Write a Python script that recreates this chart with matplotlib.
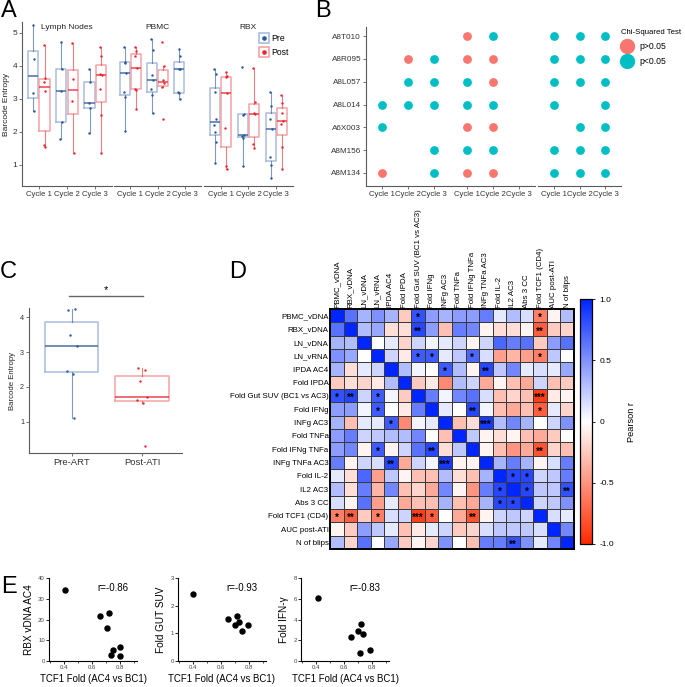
import numpy as np
import matplotlib
matplotlib.use('Agg')
import matplotlib.pyplot as plt
from matplotlib.colors import LinearSegmentedColormap
from matplotlib.lines import Line2D

plt.rcParams['font.family'] = ['Liberation Sans', 'DejaVu Sans']

W, H = 685, 687

# ---------------- data ----------------
# Panel A: barcode entropy by tissue / ATI cycle, pre and post
tissues = ['Lymph Nodes', 'PBMC', 'RBX']
cycles = ['Cycle 1', 'Cycle 2', 'Cycle 3']
ln_pre = [[5.25, 4.2, 3.18, 2.62], [4.73, 3.9, 3.23, 2.3, 1.77], [3.92, 3.52, 2.88, 2.72, 1.97]]
ln_post = [[4.62, 3.62, 3.5, 3.25, 1.6, 1.53], [4.7, 3.6, 2.93, 1.35], [4.58, 4.3, 3.75, 3.72, 3.3, 2.5, 1.37]]
pbmc_pre = [[4.57, 4.12, 4.1, 3.78, 3.2, 3.05, 2.02], [4.82, 4.47, 3.72, 3.57, 3.3, 3.12, 2.58],
            [4.52, 4.3, 3.92, 3.9, 3.2, 3.18, 3.0]]
pbmc_post = [[4.57, 4.45, 4.3, 3.95, 3.3, 3.28, 2.7], [4.72, 4.0, 3.56, 3.48, 3.35, 2.4], []]
rbx_pre = [[3.92, 3.75, 3.2, 2.38, 2.22, 2.0, 1.68, 1.05], [3.97, 2.55, 2.52, 1.92, 1.88, 1.82, 0.98],
           [3.2, 2.78, 2.38, 2.1, 1.25, 1.0, 0.6]]
rbx_post = [[3.82, 3.68, 3.65, 3.18, 2.12, 0.97, 0.88], [3.95, 2.92, 2.57, 2.53, 1.62, 1.52],
            [3.12, 2.87, 2.57, 2.33, 2.25, 1.55, 0.88]]

# Panel B: chi-squared result per animal (0 = none, 1 = p>0.05, 2 = p<0.05)
animals = ['A8T010', 'A8R095', 'A8L057', 'A8L014', 'A6X003', 'A8M156', 'A8M134']
chi_ln = [[0, 0, 0], [0, 1, 2], [0, 2, 2], [2, 2, 2], [2, 0, 0], [0, 0, 2], [1, 0, 2]]
chi_pbmc = [[1, 2, 0], [1, 1, 0], [2, 1, 0], [2, 2, 0], [1, 1, 0], [2, 2, 0], [1, 1, 0]]
chi_rbx = [[2, 2, 2], [2, 2, 2], [2, 2, 2], [2, 0, 2], [0, 2, 2], [2, 2, 2], [2, 2, 2]]

# Panel C
c_groups = ['Pre-ART', 'Post-ATI']
c_pre = [4.2, 4.22, 3.5, 3.18, 2.45, 2.38, 1.1]
c_post = [2.55, 2.48, 2.17, 1.72, 1.62, 1.55, 0.3]

# Panel D: Pearson r matrix
d_labels = ['PBMC_vDNA', 'RBX_vDNA', 'LN_vDNA', 'LN_vRNA', 'IPDA AC4', 'Fold IPDA',
            'Fold Gut SUV (BC1 vs AC3)', 'Fold IFNg', 'INFg AC3', 'Fold TNFa', 'Fold IFNg TNFa',
            'INFg TNFa AC3', 'Fold IL-2', 'IL2 AC3', 'Abs 3 CC', 'Fold TCF1 (CD4)', 'AUC post-ATI',
            'N of blips']
corr_r = [
    [1.0, 0.65, 0.35, 0.5, 0.35, -0.25, 0.8, 0.45, 0.35, 0.45, 0.45, 0.6, 0.1, 0.3, 0.15, -0.6, -0.05, 0.3],
    [0.65, 1.0, 0.3, 0.4, -0.15, -0.15, 0.85, 0.45, -0.3, 0.6, 0.55, -0.05, -0.15, -0.15, -0.05, -0.75, -0.25, -0.2],
    [0.35, 0.3, 1.0, 0.0, 0.1, -0.2, 0.2, 0.05, 0.1, 0.2, -0.05, 0.2, 0.7, 0.6, 0.65, -0.25, 0.45, 0.65],
    [0.5, 0.4, 0.0, 1.0, 0.2, -0.1, 0.75, 0.75, 0.1, 0.25, 0.7, 0.15, -0.45, -0.35, -0.45, -0.6, 0.25, 0.0],
    [0.35, -0.15, 0.1, 0.2, 1.0, 0.3, 0.05, 0.0, 0.75, 0.3, -0.05, 0.85, 0.25, 0.55, 0.1, 0.15, 0.1, 0.4],
    [-0.25, -0.15, -0.2, -0.1, 0.3, 1.0, -0.25, -0.1, -0.55, 0.3, 0.2, -0.4, -0.05, -0.3, -0.4, 0.2, -0.3, -0.25],
    [0.8, 0.85, 0.2, 0.75, 0.05, -0.25, 1.0, 0.6, 0.05, 0.55, 0.65, 0.15, -0.3, -0.2, -0.3, -0.9, -0.1, -0.05],
    [0.45, 0.45, 0.05, 0.75, 0.0, -0.1, 0.6, 1.0, 0.1, 0.0, 0.85, 0.05, -0.3, -0.4, -0.3, -0.75, 0.1, -0.2],
    [0.35, -0.3, 0.1, 0.1, 0.75, -0.55, 0.05, 0.1, 1.0, -0.3, -0.15, 0.9, 0.3, 0.55, 0.35, 0.0, 0.2, 0.5],
    [0.45, 0.6, 0.2, 0.25, 0.3, 0.3, 0.55, 0.0, -0.3, 1.0, 0.25, -0.05, -0.15, -0.05, -0.3, -0.4, -0.25, 0.0],
    [0.45, 0.55, -0.05, 0.75, -0.05, 0.2, 0.65, 0.85, -0.15, 0.25, 1.0, -0.05, -0.3, -0.5, -0.4, -0.8, -0.2, -0.3],
    [0.6, -0.05, 0.2, 0.15, 0.85, -0.4, 0.2, 0.05, 0.9, -0.05, -0.05, 1.0, 0.35, 0.6, 0.35, -0.05, 0.15, 0.6],
    [0.1, -0.15, 0.7, -0.45, 0.25, -0.05, -0.3, -0.3, 0.3, -0.15, -0.3, 0.35, 1.0, 0.85, 0.85, 0.2, 0.25, 0.6],
    [0.3, -0.15, 0.6, -0.35, 0.55, -0.3, -0.2, -0.4, 0.55, -0.05, -0.5, 0.6, 0.85, 1.0, 0.85, 0.25, 0.25, 0.8],
    [0.15, -0.05, 0.65, -0.45, 0.1, -0.4, -0.3, -0.3, 0.35, -0.3, -0.4, 0.35, 0.85, 0.85, 1.0, 0.2, 0.25, 0.5],
    [-0.6, -0.75, -0.25, -0.6, 0.15, 0.2, -0.9, -0.75, 0.0, -0.4, -0.8, -0.05, 0.2, 0.25, 0.2, 1.0, 0.15, 0.1],
    [-0.05, -0.25, 0.45, 0.25, 0.1, -0.3, -0.1, 0.1, 0.2, -0.25, -0.2, 0.15, 0.25, 0.25, 0.25, 0.15, 1.0, 0.55],
    [0.3, -0.2, 0.65, 0.0, 0.4, -0.25, -0.05, -0.2, 0.5, 0.0, -0.3, 0.6, 0.6, 0.8, 0.5, 0.1, 0.55, 1.0],
]
# significant pairs (row, col, number of stars), mirrored below
sig_pairs = [(0, 6, 1), (1, 6, 2), (3, 6, 1), (3, 7, 1), (3, 10, 1), (4, 8, 1), (4, 11, 2),
             (7, 10, 2), (8, 11, 3), (0, 15, 1), (1, 15, 2), (3, 15, 1), (6, 15, 3), (7, 15, 1),
             (10, 15, 2), (12, 13, 1), (12, 14, 1), (13, 14, 1), (13, 17, 2)]

# Panel E: TCF1 fold vs other readouts
tcf1_a = [0.405, 0.657, 0.72, 0.705, 0.737, 0.747, 0.798, 0.798]
rbx_vdna = [34.2, 21.9, 23.2, 15.8, 3.0, 5.3, 6.9, 2.2]
tcf1_b = [0.40, 0.649, 0.71, 0.70, 0.73, 0.745, 0.79]
gut_suv = [2.41, 1.51, 1.61, 1.3, 1.4, 1.09, 1.3]
tcf1_c = [0.41, 0.65, 0.695, 0.72, 0.735, 0.71, 0.785]
fold_ifn = [6.06, 2.34, 2.9, 3.56, 2.63, 0.8, 1.09]
e_r = ['r=-0.86', 'r=-0.93', 'r=-0.83']

# ---------------- figure ----------------
fig = plt.figure(figsize=(W / 100, H / 100), dpi=100)


def px_axes(x0, y0, x1, y1):
    return fig.add_axes([x0 / W, 1 - y1 / H, (x1 - x0) / W, (y1 - y0) / H])


def letter(x, y, s):
    fig.text(x / W, 1 - y / H, s, fontsize=17, va='baseline')


PRE_D, PRE_L = '#2b5797', '#a9bddd'
POST_D, POST_L = '#e8252f', '#f4a3a6'
AX_GRAY = '#5a5a5a'
jit = [-0.07, 0.06, -0.03, 0.09, -0.09, 0.02, 0.05, -0.05]


def box(ax, vals, pos, width, dark, light, lw=1.1):
    if not vals:
        return
    bp = ax.boxplot([vals], positions=[pos], widths=width, showfliers=False,
                    manage_ticks=False, whis=1.5)
    for b in bp['boxes']:
        b.set(color=light, linewidth=lw)
    for w in bp['whiskers']:
        w.set(color=dark, alpha=0.6, linewidth=0.8)
    for c in bp['caps']:
        c.set_visible(False)
    for m in bp['medians']:
        m.set(color=dark, linewidth=lw, alpha=0.85)
    xs = [pos + jit[i % len(jit)] * width for i in range(len(vals))]
    ax.scatter(xs, vals, s=3, color=dark, zorder=3, linewidths=0)


def classic(ax, left=True, size=5.6):
    for s in ['top', 'right']:
        ax.spines[s].set_visible(False)
    ax.spines['bottom'].set_color(AX_GRAY)
    ax.spines['left'].set_color(AX_GRAY)
    ax.spines['left'].set_visible(left)
    ax.tick_params(colors=AX_GRAY, length=2, width=0.6, labelcolor='#333333', labelsize=size, pad=1.5)


# ---- A
letter(1, 17, 'A')
a_facets = [(22, 112), (114, 201), (204, 293)]
pre_sets = [ln_pre, pbmc_pre, rbx_pre]
post_sets = [ln_post, pbmc_post, rbx_post]
for k, (x0, x1) in enumerate(a_facets):
    ax = px_axes(x0, 22, x1, 186)
    for i in range(3):
        box(ax, pre_sets[k][i], i + 1 - 0.2, 0.36, PRE_D, PRE_L)
        box(ax, post_sets[k][i], i + 1 + 0.2, 0.36, POST_D, POST_L)
    ax.set_xlim(0.4, 3.6)
    ax.set_ylim(0.36, 5.33)
    ax.set_xticks([1, 2, 3])
    ax.set_xticklabels(cycles)
    ax.set_yticks([1, 2, 3, 4, 5])
    classic(ax, left=(k == 0))
    ax.tick_params(axis='y', labelsize=6)
    if k == 0:
        ax.set_ylabel('Barcode Entropy', fontsize=6, labelpad=2, color='#222222')
    else:
        ax.tick_params(axis='y', left=False, labelleft=False)
    ax.text(0.5, 0.985, tissues[k], transform=ax.transAxes, ha='center', va='top', fontsize=6,
            color='#222222')
    if k == 2:
        hpre = (Line2D([], [], marker='s', ms=7, mfc='white', mec=PRE_L, mew=1.2, ls=''),
                Line2D([], [], marker='o', ms=2.3, color=PRE_D, ls=''))
        hpost = (Line2D([], [], marker='s', ms=7, mfc='white', mec=POST_L, mew=1.2, ls=''),
                 Line2D([], [], marker='o', ms=2.3, color=POST_D, ls=''))
        fig.legend([hpre, hpost], ['Pre', 'Post'], loc='upper left',
                   bbox_to_anchor=(255 / W, 1 - 29 / H), frameon=False, fontsize=6.2,
                   handlelength=1.0, handletextpad=0.3, labelspacing=0.6, borderpad=0.1)

# ---- B
letter(315, 17, 'B')
chi_sets = [chi_ln, chi_pbmc, chi_rbx]
chi_cols = {1: '#f8766d', 2: '#00bfc4'}
b_facets = [(366, 450), (451, 535), (538, 621)]
for k, (x0, x1) in enumerate(b_facets):
    ax = px_axes(x0, 27, x1, 186)
    for r, row in enumerate(chi_sets[k]):
        for c, v in enumerate(row):
            if v:
                ax.scatter(c + 1, len(animals) - 1 - r, s=40, color=chi_cols[v], linewidths=0)
    ax.set_xlim(0.4, 3.6)
    ax.set_ylim(-0.57, 6.4)
    ax.set_xticks([1, 2, 3])
    ax.set_xticklabels(cycles)
    ax.set_yticks(range(len(animals)))
    ax.set_yticklabels(animals[::-1])
    classic(ax, left=(k == 0))
    ax.tick_params(axis='y', labelsize=5.9)
    if k > 0:
        ax.tick_params(axis='y', left=False, labelleft=False)
leg_h = [Line2D([], [], marker='o', ms=10, color=chi_cols[1], ls=''),
         Line2D([], [], marker='o', ms=10, color=chi_cols[2], ls='')]
fig.legend(leg_h, ['p>0.05', 'p<0.05'], title='Chi-Squared Test', loc='upper left',
           bbox_to_anchor=(616 / W, 1 - 24 / H), frameon=False, fontsize=6.2, title_fontsize=5.6,
           handletextpad=0.7, labelspacing=0.7, borderpad=0.1, handlelength=1.4,
           alignment='left')

# ---- C
letter(0, 278, 'C')
ax = px_axes(29, 308, 182, 453)
box(ax, c_pre, 1, 0.76, PRE_D, PRE_L)
box(ax, c_post, 2, 0.76, POST_D, POST_L)
ax.set_xlim(0.39, 2.57)
ax.set_ylim(0.11, 4.26)
ax.set_xticks([1, 2])
ax.set_xticklabels(c_groups)
ax.set_yticks([1, 2, 3, 4])
classic(ax)
ax.tick_params(axis='x', labelsize=6.8)
ax.tick_params(axis='y', labelsize=5.2)
ax.set_ylabel('Barcode Entropy', fontsize=5.6, labelpad=3, color='#222222')
ax.plot([0.96, 2.01], [4.6, 4.6], color='#666666', lw=1.0, clip_on=False)
ax.text(1.48, 4.62, '*', ha='center', va='bottom', fontsize=8, clip_on=False)

# ---- D
letter(229, 278, 'D')
cmap = LinearSegmentedColormap.from_list('pearson', ['#ff2a00', '#ffffff', '#0026ff'])
R = np.array(corr_r)
n = len(d_labels)
ax = px_axes(330, 309, 574, 549)
mesh = ax.pcolormesh(np.arange(n + 1), np.arange(n + 1), R, cmap=cmap, vmin=-1, vmax=1,
                     edgecolors='#3a3a3a', linewidth=0.6)
ax.set_xlim(0, n)
ax.set_ylim(n, 0)
ax.set_xticks(np.arange(n) + 0.5)
ax.set_yticks(np.arange(n) + 0.5)
ax.xaxis.tick_top()
ax.set_xticklabels(d_labels, rotation=90, fontsize=5.7)
ax.set_yticklabels(d_labels, fontsize=5.7)
ax.tick_params(length=0, pad=1)
for s in ax.spines.values():
    s.set_linewidth(1.4)
for r, c, k in sig_pairs:
    for rr, cc in [(r, c), (c, r)]:
        ax.text(cc + 0.5, rr + 0.68, '*' * k, ha='center', va='center', fontsize=7,
                fontweight='bold')
cax = px_axes(580, 299, 592, 544)
cb = fig.colorbar(mesh, cax=cax, ticks=[1, 0.5, 0, -0.5, -1])
cb.ax.set_yticklabels(['1.0', '0.5', '0', '-0.5', '-1.0'])
cb.ax.tick_params(labelsize=6, length=2, width=0.6)
cb.outline.set_linewidth(0.9)
cb.set_label('Pearson r', fontsize=6.6, labelpad=9)

# ---- E
letter(1, 593, 'E')
e_sets = [(49, tcf1_a, rbx_vdna, 'RBX vDNA AC4', (0, 40), [0, 10, 20, 30, 40]),
          (178, tcf1_b, gut_suv, 'Fold GUT SUV', (0, 3), [0, 1, 2, 3]),
          (301, tcf1_c, fold_ifn, 'Fold IFN-\u03b3', (0, 8), [0, 2, 4, 6, 8])]
for k, (x0, xs, ys, lab, lim, ticks) in enumerate(e_sets):
    ax = px_axes(x0, 578, x0 + 88, 661)
    ax.scatter(xs, ys, s=13, color='black', zorder=3, clip_on=False)
    ax.set_xlim(0.29, 0.92)
    ax.set_ylim(*lim)
    ax.set_xticks([0.4, 0.6, 0.8])
    ax.set_xticks([0.3, 0.5, 0.7, 0.9], minor=True)
    ax.set_yticks(ticks)
    for s in ['top', 'right']:
        ax.spines[s].set_visible(False)
    for s in ['left', 'bottom']:
        ax.spines[s].set_linewidth(0.8)
    ax.tick_params(labelsize=4.3, length=2, width=0.6, pad=1, labelcolor='#444444')
    ax.tick_params(which='minor', length=1.2, width=0.5)
    ax.set_xlabel('TCF1 Fold (AC4 vs BC1)', fontsize=6.9, labelpad=3)
    ax.set_ylabel(lab, fontsize=7.2, labelpad=3)
    ax.text(0.55, 0.88, e_r[k], transform=ax.transAxes, fontsize=7, va='center')

fig.savefig('out.png', dpi=100)
